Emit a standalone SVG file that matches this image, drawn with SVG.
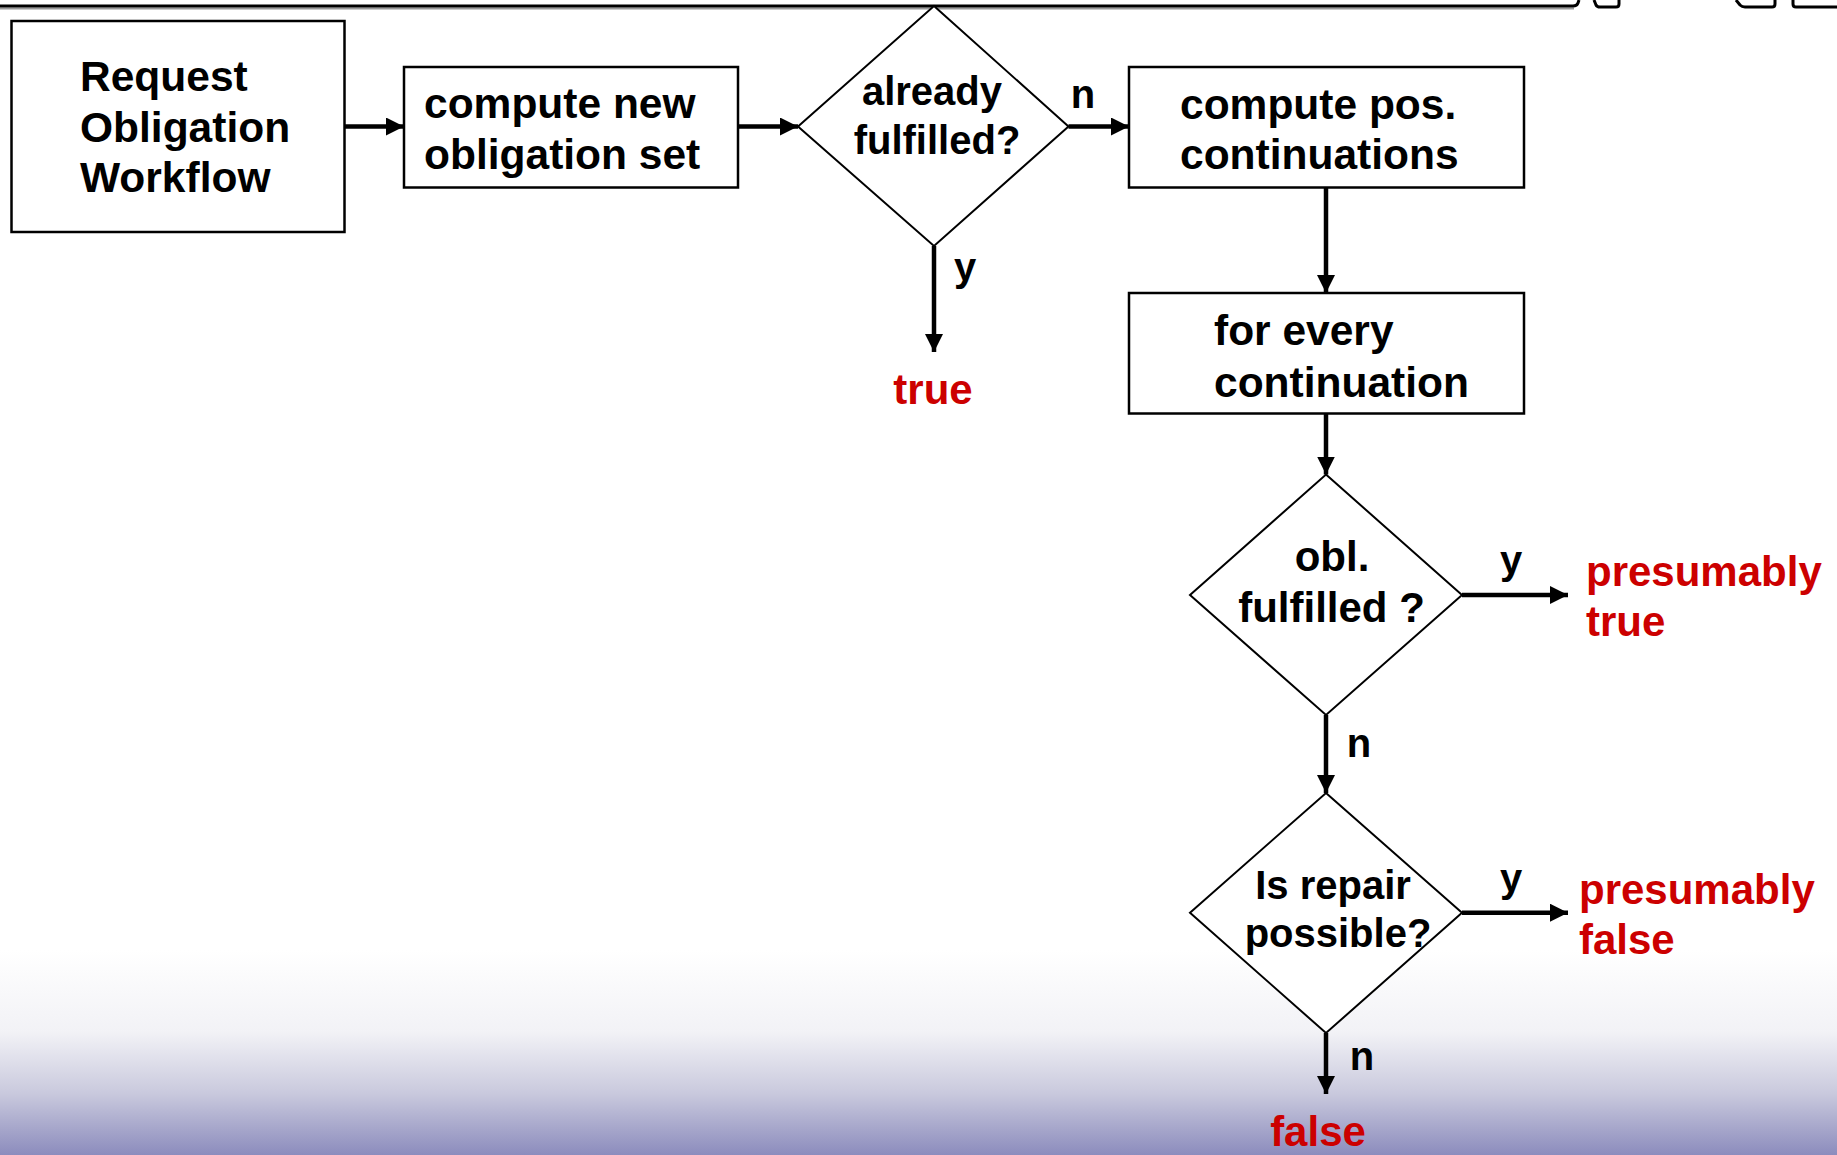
<svg xmlns="http://www.w3.org/2000/svg" width="1837" height="1155" viewBox="0 0 1837 1155">
<defs>
<linearGradient id="bg" x1="0" y1="950" x2="0" y2="1155" gradientUnits="userSpaceOnUse">
<stop offset="0" stop-color="#ffffff"/>
<stop offset="0.4" stop-color="#f2f2f6"/>
<stop offset="0.7" stop-color="#c9c9dd"/>
<stop offset="1" stop-color="#8c8cbd"/>
</linearGradient>
<marker id="ah" markerUnits="userSpaceOnUse" markerWidth="20" markerHeight="20" refX="18" refY="9" orient="auto">
<path d="M0,0 L18,9 L0,18 Z" fill="#000"/>
</marker>
<style>
.node rect, .node polygon { fill: #fff; stroke: #000; }
.node rect { stroke-width: 2.5; }
.node polygon { stroke-width: 2; }
.t { font-family: "Liberation Sans", Arial, sans-serif; font-weight: bold; fill: #000; }
.r { font-family: "Liberation Sans", Arial, sans-serif; font-weight: bold; fill: #cc0000; font-size: 42px; }
.lbl { font-family: "Liberation Sans", Arial, sans-serif; font-weight: bold; fill: #000; font-size: 40px; text-anchor: middle; }
.c { stroke: #000; stroke-width: 4.5; fill: none; marker-end: url(#ah); }
.deco { stroke: #000; stroke-width: 3; fill: none; }
.decos { stroke: #9a9a9a; stroke-width: 2; fill: none; }
</style>
</defs>
<rect x="0" y="0" width="1837" height="1155" fill="#fff"/>
<rect x="0" y="950" width="1837" height="205" fill="url(#bg)"/>

<g id="decoration">
<path class="decos" d="M0,8.5 L1574,8.5"/>
<path class="deco" d="M0,6 L1573,6 Q1577,6 1578,3 L1579,0"/>
<path class="deco" d="M1594,0 L1596,5 Q1597,7 1600,7 L1616,7 Q1619,7 1619,4 L1619,0"/>
<path class="deco" d="M1736,0 L1740,5 Q1742,7 1745,7 L1772,7 Q1775,7 1775,4 L1775,0"/>
<path class="deco" d="M1793,0 L1793,4 Q1793,7 1796,7 L1837,7"/>
</g>

<g id="connectors">
<line class="c" x1="345" y1="126.5" x2="404" y2="126.5"/>
<line class="c" x1="738" y1="126.5" x2="798" y2="126.5"/>
<line class="c" x1="1068.5" y1="126.5" x2="1129" y2="126.5"/>
<line class="c" x1="934" y1="246" x2="934" y2="352"/>
<line class="c" x1="1326" y1="188" x2="1326" y2="293"/>
<line class="c" x1="1326" y1="414" x2="1326" y2="474.5"/>
<line class="c" x1="1462" y1="595" x2="1568" y2="595"/>
<line class="c" x1="1326" y1="715" x2="1326" y2="793"/>
<line class="c" x1="1462" y1="912.7" x2="1568" y2="912.7"/>
<line class="c" x1="1326" y1="1033" x2="1326" y2="1094"/>
<text class="lbl" x="1083" y="108">n</text>
<text class="lbl" x="965" y="281">y</text>
<text class="lbl" x="1511" y="574">y</text>
<text class="lbl" x="1359" y="757">n</text>
<text class="lbl" x="1511" y="892">y</text>
<text class="lbl" x="1362" y="1070">n</text>
</g>

<g id="request" class="node">
<rect x="11.5" y="21" width="333" height="211"/>
<text class="t" font-size="42.5" x="80" y="91">Request</text>
<text class="t" font-size="42.5" x="80" y="142">Obligation</text>
<text class="t" font-size="42.5" x="80" y="192">Workflow</text>
</g>

<g id="compute-new" class="node">
<rect x="404" y="67" width="334" height="120.5"/>
<text class="t" font-size="42.5" x="424" y="118">compute new</text>
<text class="t" font-size="42.5" x="424" y="169">obligation set</text>
</g>

<g id="already-fulfilled" class="node">
<polygon points="934,6 1068.5,126.5 934,246 798,126.5"/>
<text class="t" font-size="40" text-anchor="middle" x="932" y="105">already</text>
<text class="t" font-size="40" text-anchor="middle" x="937" y="153.5">fulfilled?</text>
</g>

<g id="true">
<text class="r" text-anchor="middle" x="933" y="404">true</text>
</g>

<g id="compute-pos" class="node">
<rect x="1129" y="67" width="395" height="120.5"/>
<text class="t" font-size="42.5" x="1180" y="118.5">compute pos.</text>
<text class="t" font-size="42.5" x="1180" y="169">continuations</text>
</g>

<g id="for-every" class="node">
<rect x="1129" y="293" width="395" height="120.5"/>
<text class="t" font-size="42.5" x="1214" y="345">for every</text>
<text class="t" font-size="42.5" x="1214" y="397">continuation</text>
</g>

<g id="obl-fulfilled" class="node">
<polygon points="1326,474.5 1462,595 1326,715 1190,595"/>
<text class="t" font-size="42" text-anchor="middle" x="1332" y="570.5">obl.</text>
<text class="t" font-size="42" text-anchor="middle" x="1331.5" y="622">fulfilled ?</text>
</g>

<g id="presumably-true">
<text class="r" x="1586" y="586">presumably</text>
<text class="r" x="1586" y="636">true</text>
</g>

<g id="repair-possible" class="node">
<polygon points="1326,793 1462,912.7 1326,1033 1190,912.7"/>
<text class="t" font-size="40" text-anchor="middle" x="1333" y="898.5">Is repair</text>
<text class="t" font-size="40" text-anchor="middle" x="1338" y="946.5">possible?</text>
</g>

<g id="presumably-false">
<text class="r" x="1579" y="904">presumably</text>
<text class="r" x="1579" y="953.5">false</text>
</g>

<g id="false">
<text class="r" text-anchor="middle" x="1318" y="1146">false</text>
</g>
</svg>
